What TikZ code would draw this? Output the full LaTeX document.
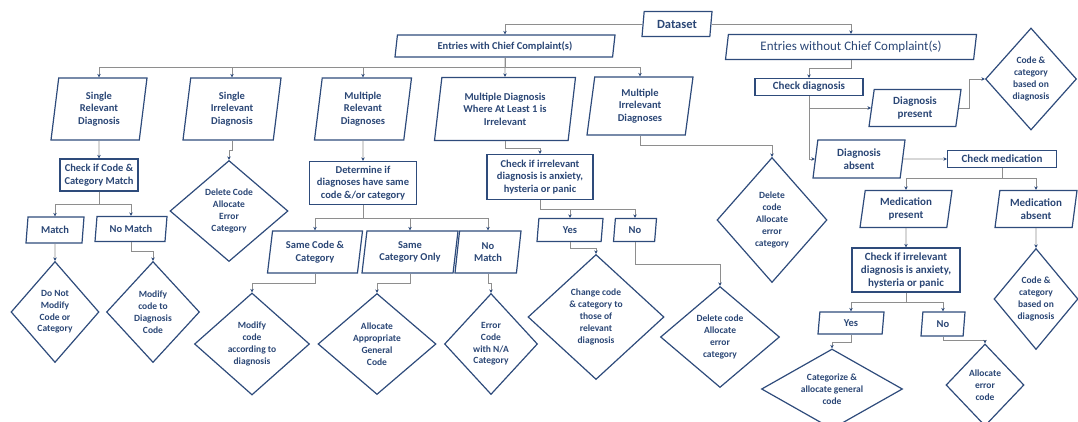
\documentclass[tikz,border=0pt]{standalone}
\usepackage{fontspec}
\setmainfont{Carlito}
\usetikzlibrary{shapes.geometric,arrows.meta}
\definecolor{navy}{HTML}{2E4B7B}
\definecolor{inkblue}{HTML}{2A4675}
\definecolor{wiregray}{HTML}{8E8E8E}

\begin{document}
\begin{tikzpicture}[x=1pt,y=-1pt,
  every node/.style={text=inkblue,align=center,font=\bfseries\fontsize{10.5}{12.6}\selectfont},
  box/.style={draw=navy,line width=1.2pt,rectangle,inner sep=2pt},
  para/.style={draw=navy,line width=1.2pt,trapezium,trapezium left angle=78,
    trapezium right angle=102,trapezium stretches body,inner sep=1pt},
  choice/.style={draw=navy,line width=1.2pt,diamond,aspect=1,inner sep=0pt,
    font=\bfseries\fontsize{9.5}{11.8}\selectfont},
  rside/.style={font=\bfseries\fontsize{11}{13}\selectfont},
  link/.style={draw=wiregray,line width=0.8pt,-{Stealth[length=3.5pt,width=3.5pt,color=navy]}}]
  \useasboundingbox (0,0) rectangle (1078,421);
  \clip (0,0) rectangle (1078,421);

  \node[para,minimum width=70,minimum height=25,font=\bfseries\fontsize{12.5}{14}\selectfont] (data) at (677,24) {Dataset};
  \node[para,minimum width=220,minimum height=22] (ewc) at (505,46) {Entries with Chief Complaint(s)};
  \node[para,minimum width=251,minimum height=25,font=\fontsize{13}{15}\selectfont] (ewoc) at (851,47) {Entries without Chief Complaint(s)};

  \node[para,minimum width=96,minimum height=62] (srd) at (99,109) {Single\\Relevant\\Diagnosis};
  \node[para,minimum width=98,minimum height=62] (sid) at (232,109) {Single\\Irrelevant\\Diagnosis};
  \node[para,minimum width=97,minimum height=62] (mrd) at (363,109) {Multiple\\Relevant\\Diagnoses};
  \node[para,minimum width=141,minimum height=63] (mdi) at (505,109) {Multiple Diagnosis\\Where At Least 1 is\\Irrelevant};
  \node[para,minimum width=106,minimum height=58] (mid) at (640,106) {Multiple\\Irrelevant\\Diagnoses};

  \node[box,minimum width=78,minimum height=32] (ccm) at (99,175) {Check if Code \&\\Category Match};
  \node[para,minimum width=58,minimum height=26] (match) at (55,230) {Match};
  \node[para,minimum width=72,minimum height=25] (nomatch) at (131,229) {No Match};
  \node[choice,minimum width=88,minimum height=101] (dnm) at (55,312) {Do Not\\Modify\\Code or\\Category};
  \node[choice,minimum width=93,minimum height=101] (mcd) at (153,312) {Modify\\code to\\Diagnosis\\Code};
  \node[choice,minimum width=118,minimum height=101] (dce) at (229,211) {Delete Code\\Allocate\\Error\\Category};

  \node[box,minimum width=107,minimum height=43] (dsc) at (363,183) {Determine if\\diagnoses have same\\code \&/or category};
  \node[para,minimum width=95,minimum height=42] (scc) at (315,252) {Same Code \&\\Category};
  \node[para,minimum width=96,minimum height=42] (sco) at (410,252) {Same\\Category Only};
  \node[para,minimum width=66,minimum height=42] (nm) at (488,252) {No\\Match};
  \node[choice,minimum width=115,minimum height=102] (mca) at (252,344) {Modify\\code\\according to\\diagnosis};
  \node[choice,minimum width=118,minimum height=101] (aag) at (377,344) {Allocate\\Appropriate\\General\\Code};
  \node[choice,minimum width=93,minimum height=101] (ecn) at (491,344) {Error\\Code\\with N/A\\Category};

  \node[box,minimum width=106,minimum height=45] (cia) at (540,177) {Check if irrelevant\\diagnosis is anxiety,\\hysteria or panic};
  \node[para,minimum width=66,minimum height=23] (yesa) at (570,230) {Yes};
  \node[para,minimum width=43,minimum height=23] (noa) at (635,230) {No};
  \node[choice,minimum width=136,minimum height=125] (ccc) at (596,317) {Change code\\\& category to\\those of\\relevant\\diagnosis};
  \node[choice,minimum width=119,minimum height=101] (dcb) at (720,337) {Delete code\\Allocate\\error\\category};
  \node[choice,minimum width=110,minimum height=125] (dca) at (772,220) {Delete\\code\\Allocate\\error\\category};

  \node[box,rside,minimum width=108,minimum height=17] (ckd) at (809,87) {Check diagnosis};
  \node[para,rside,minimum width=92,minimum height=37] (dpr) at (915,108) {Diagnosis\\present};
  \node[choice,minimum width=91,minimum height=102] (cbd) at (1031,79) {Code \&\\category\\based on\\diagnosis};
  \node[para,rside,minimum width=92,minimum height=38] (dab) at (859,159) {Diagnosis\\absent};
  \node[box,rside,minimum width=109,minimum height=17] (ckm) at (1002,159) {Check medication};
  \node[para,rside,minimum width=92,minimum height=37] (mpr) at (906,209) {Medication\\present};
  \node[para,rside,minimum width=82,minimum height=37] (mab) at (1036,209) {Medication\\absent};
  \node[box,rside,minimum width=108,minimum height=44] (cib) at (906,270) {Check if irrelevant\\diagnosis is anxiety,\\hysteria or panic};
  \node[para,minimum width=66,minimum height=22] (yesb) at (851,323) {Yes};
  \node[para,minimum width=44,minimum height=24] (nob) at (943,324) {No};
  \node[choice,aspect=1.8,minimum width=141,minimum height=80] (cag) at (832,389) {Categorize \&\\allocate general\\code};
  \node[choice,minimum width=78,minimum height=82] (aec) at (985,385) {Allocate\\error\\code};
  \node[choice,minimum width=84,minimum height=101] (cbe) at (1036,299) {Code \&\\category\\based on\\diagnosis};

  \draw[link] (data.west) -| (ewc.north);
  \draw[link] (data.east) -| (ewoc.north);
  \draw[link] (ewc.south) -- ++(0,10) -| (srd.north);
  \draw[link] (ewc.south) -- ++(0,10) -| (sid.north);
  \draw[link] (ewc.south) -- ++(0,10) -| (mrd.north);
  \draw[link] (ewc.south) -- (mdi.north);
  \draw[link] (ewc.south) -- ++(0,10) -| (mid.north);

  \draw[link] (srd.south) -- (ccm.north);
  \draw[link] (ccm.south) -- ++(0,13) -| (match.north);
  \draw[link] (ccm.south) -- ++(0,13) -| (nomatch.north);
  \draw[link] (match.south) -- (dnm.north);
  \draw[link] (nomatch.south) -- ++(0,9) -| (mcd.north);
  \draw[link] (sid.south) -- ++(0,10) -| (dce.north);

  \draw[link] (mrd.south) -- (dsc.north);
  \draw[link] (dsc.south) -- ++(0,13) -| (scc.north);
  \draw[link] (dsc.south) -- ++(0,13) -| (sco.north);
  \draw[link] (dsc.south) -- ++(0,13) -| (nm.north);
  \draw[link] (scc.south) -- ++(0,10) -| (mca.north);
  \draw[link] (sco.south) -- ++(0,10) -| (aag.north);
  \draw[link] (nm.south) -- ++(0,10) -| (ecn.north);

  \draw[link] (mdi.south) -- ++(0,7) -| (cia.north);
  \draw[link] (cia.south) -- ++(0,9) -| (yesa.north);
  \draw[link] (cia.south) -- ++(0,9) -| (noa.north);
  \draw[link] (yesa.south) -- ++(0,6) -| (ccc.north);
  \draw[link] (noa.south) -- ++(0,22) -| (dcb.north);
  \draw[link] (mid.south) -- ++(0,10) -| (dca.north);

  \draw[link] (ewoc.south) -- ++(0,8) -| (ckd.north);
  \draw[link] (ckd.south) |- (dpr.west);
  \draw[link] (ckd.south) |- (dab.west);
  \draw[link] (dpr.east) -- ++(10,0) |- (cbd.west);
  \draw[link] (dab.east) -- (ckm.west);
  \draw[link] (ckm.south) -- ++(0,10) -| (mpr.north);
  \draw[link] (ckm.south) -- ++(0,10) -| (mab.north);
  \draw[link] (mpr.south) -- (cib.north);
  \draw[link] (mab.south) -- (cbe.north);
  \draw[link] (cib.south) -- ++(0,10) -| (yesb.north);
  \draw[link] (cib.south) -- ++(0,10) -| (nob.north);
  \draw[link] (yesb.south) -- ++(0,8) -| (cag.north);
  \draw[link] (nob.south) -- ++(0,4) -| (aec.north);
\end{tikzpicture}
\end{document}
